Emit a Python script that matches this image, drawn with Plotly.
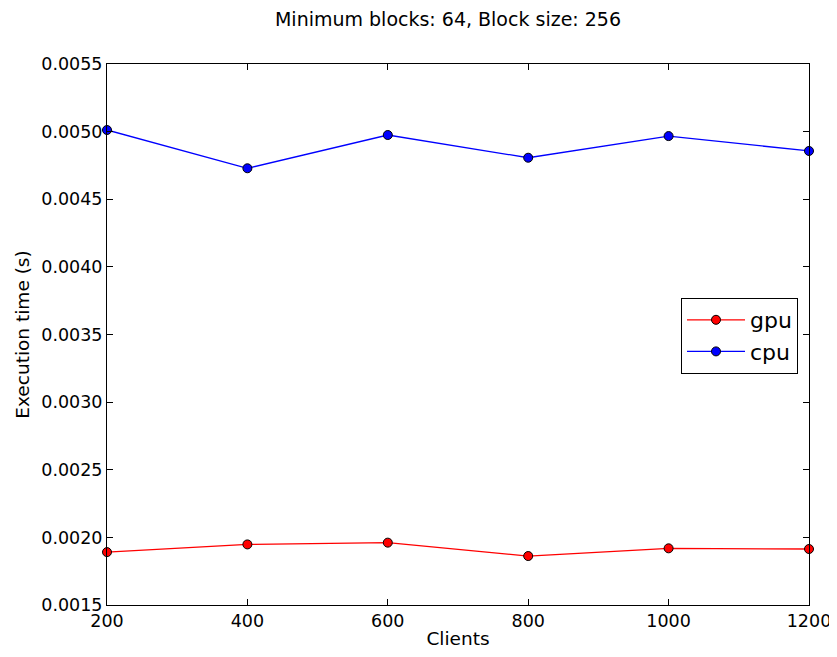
import plotly.graph_objects as go

clients = [200, 400, 600, 800, 1000, 1200]
gpu = [0.001891, 0.001948, 0.001961, 0.001862, 0.001919, 0.001914]
cpu = [0.005012, 0.004729, 0.004975, 0.004807, 0.004967, 0.004857]
y_ticks = [0.0015, 0.0020, 0.0025, 0.0030, 0.0035, 0.0040, 0.0045, 0.0050, 0.0055]
x_ticks = [200, 400, 600, 800, 1000, 1200]

FONT = "DejaVu Sans"
fig = go.Figure()
fig.add_trace(go.Scatter(x=clients, y=gpu, mode="lines+markers", name="gpu",
                         line=dict(color="#ff0000", width=1.3),
                         marker=dict(color="#ff0000", size=9, line=dict(color="black", width=1)),
                         cliponaxis=False))
fig.add_trace(go.Scatter(x=clients, y=cpu, mode="lines+markers", name="cpu",
                         line=dict(color="#0000ff", width=1.3),
                         marker=dict(color="#0000ff", size=9, line=dict(color="black", width=1)),
                         cliponaxis=False))

axis_common = dict(showgrid=False, zeroline=False, showline=True, linecolor="black", linewidth=1,
                   mirror="allticks", ticks="inside", ticklen=6, tickcolor="black",
                   tickfont=dict(family=FONT, size=17.5, color="black"))

# page body has an 8px offset; margins compensate so the plot area sits at 107..809 x 64..605
L, T = 99, 56
fig.update_layout(
    width=837, height=657,
    margin=dict(l=L, r=837 - 801, t=T, b=657 - 597),
    paper_bgcolor="white", plot_bgcolor="white",
    title=dict(text="Minimum blocks: 64, Block size: 256", x=440/837, xanchor="center",
               y=1 - 11/657, yanchor="middle", xref="container", yref="container",
               font=dict(family=FONT, size=19, color="black")),
    xaxis=dict(range=[200, 1200], tickvals=x_ticks, ticktext=[str(v) for v in x_ticks],
               title=dict(text="Clients", font=dict(family=FONT, size=18.5, color="black"),
                          standoff=2),
               **axis_common),
    yaxis=dict(range=[0.0015, 0.0055], tickvals=y_ticks, ticktext=[f"{v:.4f}" for v in y_ticks],
               title=dict(text="Execution time (s)", font=dict(family=FONT, size=18.5, color="black"),
                          standoff=6),
               **axis_common),
    legend=dict(x=(798 - 107) / (809 - 107), xanchor="right",
                y=1 - (298 - 64) / (605 - 64), yanchor="top",
                bordercolor="black", borderwidth=1, bgcolor="white",
                font=dict(family=FONT, size=22, color="black"),
                itemwidth=58, tracegroupgap=0),
    showlegend=True,
)

fig.write_html("out.html")
